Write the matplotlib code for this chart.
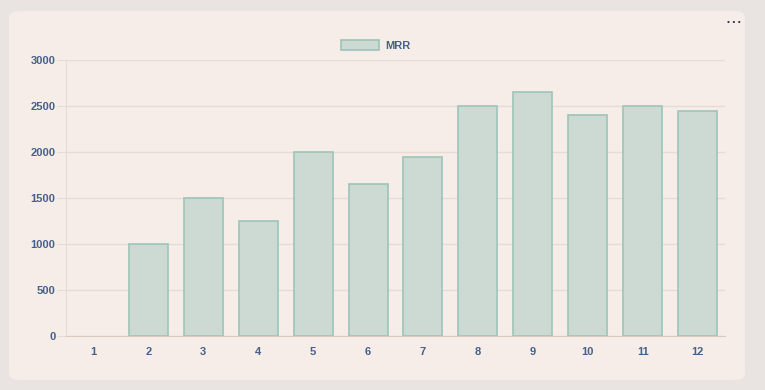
import matplotlib.pyplot as plt
from matplotlib.patches import FancyBboxPatch, Patch

months = [1, 2, 3, 4, 5, 6, 7, 8, 9, 10, 11, 12]
mrr = [0, 1000, 1500, 1250, 2000, 1650, 1950, 2500, 2650, 2400, 2500, 2450]
y_ticks = [0, 500, 1000, 1500, 2000, 2500, 3000]

text_col = '#45608a'
grid_col = '#e8dbd5'
bar_fill = '#cdd9d3'
bar_edge = '#9cc5ba'

plt.rcParams['font.family'] = ['Liberation Sans', 'DejaVu Sans']

fig = plt.figure(figsize=(7.65, 3.9), dpi=100)
fig.patch.set_facecolor('#e9e4e1')

# card background
card = FancyBboxPatch((9 / 765, 10 / 390), 736 / 765, 369 / 390,
                      boxstyle='round,pad=0,rounding_size=0.015',
                      transform=fig.transFigure, facecolor='#f6ede8',
                      edgecolor='none', zorder=-5)
fig.patches.append(card)
fig.text(734 / 765, 1 - 22 / 390, '• • •', color='#1d2e4a', fontsize=6,
         ha='center', va='center')

ax = fig.add_axes([66 / 765, 54 / 390, 659 / 765, 276 / 390])
ax.set_facecolor('none')

# no outline on an empty bar
widths = [0 if v == 0 else 1.2 for v in mrr]
ax.bar(months, mrr, width=0.71, color=bar_fill, edgecolor=bar_edge,
       linewidth=widths, zorder=3)

ax.set_xlim(0.5, 12.5)
ax.set_ylim(0, 3000)
ax.set_yticks(y_ticks)
ax.set_xticks(months)
ax.grid(axis='y', color=grid_col, linewidth=1, zorder=0)

for s in ['top', 'right']:
    ax.spines[s].set_visible(False)
ax.spines['left'].set_color(grid_col)
ax.spines['bottom'].set_color('#d9c9c2')

ax.tick_params(axis='y', length=6.5, color=grid_col, labelsize=8,
               labelcolor=text_col, pad=1)
ax.tick_params(axis='x', length=0, labelsize=8, labelcolor=text_col, pad=8)
for lab in ax.get_xticklabels() + ax.get_yticklabels():
    lab.set_fontweight('bold')

handle = Patch(facecolor=bar_fill, edgecolor=bar_edge, linewidth=1.2)
leg = ax.legend([handle], ['MRR'], loc='lower center',
                bbox_to_anchor=(0.47, 1.0), frameon=False, fontsize=8,
                handlelength=3.4, handleheight=1.0, handletextpad=0.5,
                borderaxespad=0.45)
for t in leg.get_texts():
    t.set_color(text_col)
    t.set_fontweight('bold')

fig.savefig('out.png', dpi=100, facecolor=fig.get_facecolor())
